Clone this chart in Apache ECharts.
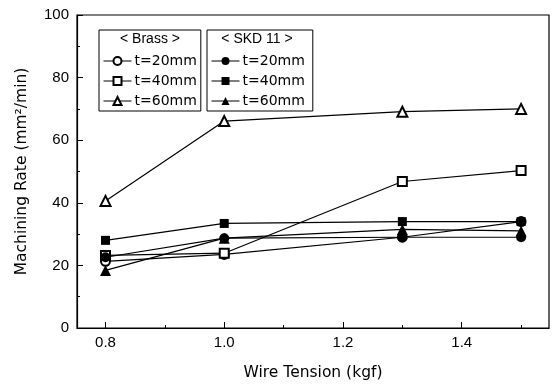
<!DOCTYPE html>
<html>
<head>
    <meta charset="utf-8">
    <title>Machining Rate</title>
    <style>
        html, body { margin: 0; padding: 0; background: #fff; }
    </style>
</head>
<body>
<div id="main" style="width: 556px;height:386px;"></div>

<script src="https://cdn.jsdelivr.net/npm/echarts@6/dist/echarts.min.js"></script>
<script>
    // wire tension (kgf)
    var tension = [0.8, 1.0, 1.3, 1.5];

    // machining rate (mm2/min)
    var brass20 = [21.3, 23.5, 29.0, 34.0];
    var brass40 = [23.2, 23.9, 46.8, 50.3];
    var brass60 = [40.6, 66.1, 69.1, 70.0];
    var skd20 = [22.6, 28.7, 29.0, 29.0];
    var skd40 = [28.0, 33.4, 34.0, 34.0];
    var skd60 = [18.4, 28.7, 31.5, 31.0];

    var xLabels = [0.8, 1.0, 1.2, 1.4];
    var xMinor = [0.9, 1.1, 1.3, 1.5];

    var font = 'Liberation Sans, Arial, sans-serif';
    var wideFont = 'DejaVu Sans, sans-serif';

    function pairs(ys) {
        return tension.map(function (x, i) { return [x, ys[i]]; });
    }

    function line(name, ys, symbol, size) {
        return {
            name: name,
            type: 'line',
            data: pairs(ys),
            symbol: symbol,
            symbolSize: size,
            showAllSymbol: true,
            lineStyle: { color: '#000', width: 1.2 },
            itemStyle: { color: '#000', borderWidth: 1.3 },
            animation: false
        };
    }

    function legendBox(names, left, padRight) {
        return {
            orient: 'vertical',
            left: left,
            top: 30,
            data: names,
            padding: [24, padRight, 3, 4],
            itemGap: 6,
            itemWidth: 28,
            itemHeight: 10,
            borderColor: '#000',
            borderWidth: 1,
            borderRadius: 0,
            lineStyle: { width: 1 },
            textStyle: { fontFamily: wideFont, fontSize: 14, color: '#000', padding: [0, 0, 0, -2] },
            formatter: function (n) { return n.slice(n.indexOf('t=')); }
        };
    }

    var myChart = echarts.init(document.getElementById('main'));

    myChart.setOption({
        backgroundColor: '#fff',
        animation: false,
        grid: {
            left: 77, right: 7, top: 15, bottom: 57,
            show: true, borderColor: '#000', borderWidth: 1.2
        },
        legend: [
            legendBox(['Brass t=20mm', 'Brass t=40mm', 'Brass t=60mm'], 99, 4),
            legendBox(['SKD 11 t=20mm', 'SKD 11 t=40mm', 'SKD 11 t=60mm'], 207, 8)
        ],
        graphic: [
            { type: 'text', x: 150, y: 39, style: { text: '< Brass >', fontFamily: font, fontSize: 14, fill: '#000', align: 'center', verticalAlign: 'middle' } },
            { type: 'text', x: 257, y: 39, style: { text: '< SKD 11 >', fontFamily: font, fontSize: 14, fill: '#000', align: 'center', verticalAlign: 'middle' } }
        ],
        xAxis: [
            {
                type: 'value',
                min: 0.752, max: 1.547,
                name: 'Wire Tension (kgf)',
                nameLocation: 'middle',
                nameGap: 37,
                nameTextStyle: { fontFamily: wideFont, fontSize: 15.5, color: '#000' },
                axisLine: { onZero: false, lineStyle: { color: '#000', width: 1.2 } },
                axisTick: { inside: true, length: 6, customValues: xLabels, lineStyle: { color: '#000' } },
                axisLabel: {
                    customValues: xLabels, margin: 7,
                    fontFamily: font, fontSize: 15, color: '#000',
                    formatter: function (v) { return v.toFixed(1); }
                },
                splitLine: { show: false }
            },
            {
                type: 'value',
                position: 'bottom',
                min: 0.752, max: 1.547,
                axisLine: { show: false },
                axisTick: { inside: true, length: 3, customValues: xMinor, lineStyle: { color: '#000' } },
                axisLabel: { show: false },
                splitLine: { show: false }
            }
        ],
        yAxis: {
            type: 'value',
            min: 0, max: 100, interval: 20,
            name: 'Machining Rate (mm²/min)',
            nameLocation: 'middle',
            nameGap: 47,
            nameTextStyle: { fontFamily: wideFont, fontSize: 15.5, color: '#000' },
            axisLine: { show: true, lineStyle: { color: '#000', width: 1.2 } },
            axisTick: { inside: true, length: 6, lineStyle: { color: '#000' } },
            minorTick: { show: true, splitNumber: 2, length: 3, lineStyle: { color: '#000' } },
            axisLabel: { margin: 8, fontFamily: font, fontSize: 15, color: '#000' },
            splitLine: { show: false }
        },
        series: [
            line('Brass t=20mm', brass20, 'emptyCircle', 9),
            line('Brass t=40mm', brass40, 'emptyRect', 9),
            line('Brass t=60mm', brass60, 'emptyTriangle', 10),
            line('SKD 11 t=20mm', skd20, 'circle', 10),
            line('SKD 11 t=40mm', skd40, 'rect', 9),
            line('SKD 11 t=60mm', skd60, 'triangle', 11)
        ]
    });
</script>
</body>
</html>
